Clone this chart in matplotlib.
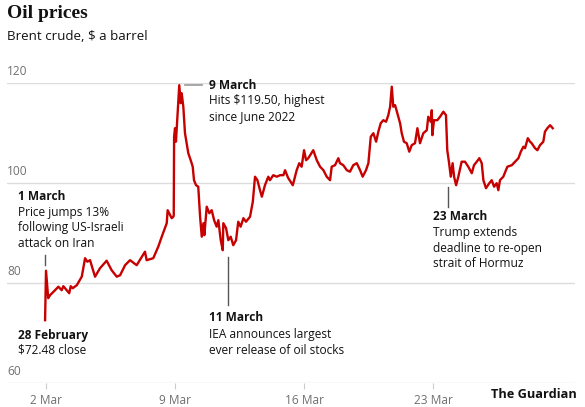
import matplotlib.pyplot as plt
from matplotlib.transforms import blended_transform_factory

# Brent crude, $ a barrel; x = days after 2 March
days = [-0.05, 0.0, 0.12, 0.22, 0.49, 0.67, 0.85, 0.94, 1.12, 1.26, 1.34, 1.45, 1.67,
        1.94, 2.12, 2.24, 2.39, 2.66, 2.93, 3.29, 3.56, 3.84, 4.02, 4.29, 4.56, 4.92,
        5.37, 5.46, 5.82, 6.09, 6.28, 6.55, 6.60, 6.82, 6.91, 6.93, 6.95, 7.00, 7.05,
        7.12, 7.23, 7.31, 7.36, 7.45, 7.54, 7.63, 7.72, 7.85, 7.96, 8.03, 8.14, 8.26,
        8.36, 8.45, 8.54, 8.59, 8.72, 8.86, 8.99, 9.12, 9.26, 9.35, 9.48, 9.59, 9.62,
        9.77, 9.89, 10.02, 10.16, 10.31, 10.43, 10.56, 10.71, 10.85, 11.07, 11.22,
        11.34, 11.47, 11.61, 11.71, 11.88, 12.06, 12.15, 12.33, 12.52, 12.70, 12.88,
        12.97, 13.13, 13.39, 13.60, 13.74, 13.87, 14.00, 14.11, 14.23, 14.50, 14.69,
        14.87, 15.05, 15.23, 15.41, 15.50, 15.68, 15.86, 15.95, 16.13, 16.32, 16.49,
        16.67, 16.86, 17.04, 17.18, 17.36, 17.49, 17.62, 17.76, 17.91, 18.03, 18.16,
        18.30, 18.45, 18.57, 18.67, 18.76, 18.84, 18.94, 19.06, 19.21, 19.30, 19.42,
        19.57, 19.71, 19.84, 20.02, 20.15, 20.29, 20.47, 20.66, 20.74, 20.87, 20.93,
        20.96, 21.05, 21.23, 21.38, 21.56, 21.70, 21.77, 21.87, 21.96, 22.06, 22.14,
        22.25, 22.37, 22.55, 22.73, 22.91, 23.10, 23.22, 23.37, 23.51, 23.64, 23.73,
        23.87, 24.05, 24.18, 24.31, 24.45, 24.54, 24.63, 24.81, 25.03, 25.27, 25.45,
        25.63, 25.76, 25.90, 25.99, 26.14, 26.26, 26.35, 26.53, 26.66, 26.80, 26.98,
        27.07, 27.20, 27.35, 27.49]
price = [72.5, 82.4, 76.9, 77.5, 78.5, 79.2, 78.5, 79.3, 78.5, 77.9, 79.3, 78.9, 79.5,
         81.2, 84.9, 84.2, 84.5, 81.2, 82.9, 84.4, 82.5, 81.2, 81.5, 83.5, 84.5, 83.5,
         86.2, 84.5, 84.9, 87.2, 89.2, 91.9, 94.5, 92.9, 93.2, 93.5, 109.2, 110.9, 108.2,
         112.5, 119.5, 115.9, 117.9, 115.2, 109.9, 107.9, 105.9, 104.5, 103.2, 100.5, 99.5, 99.2,
         93.2, 89.2, 91.9, 89.5, 95.2, 93.9, 94.5, 92.5, 91.2, 92.5, 88.5, 86.5, 91.9,
         90.9, 88.5, 89.2, 87.5, 88.5, 92.2, 91.2, 92.9, 92.2, 93.2, 96.2,
         101.2, 100.5, 98.5, 97.2, 99.5, 101.2, 100.5, 101.5, 101.2, 101.5, 101.5,
         102.5, 101.0, 99.5, 102.5, 103.9, 103.2, 106.5, 104.5, 104.9, 106.5, 104.5,
         103.2, 102.5, 101.2, 100.5, 103.2, 103.5, 104.9, 103.9, 103.5, 102.5, 102.2,
         103.5, 103.9, 102.5, 101.2, 102.5, 103.9, 109.2, 109.9, 108.2, 110.2, 111.9,
         112.5, 112.2, 113.5, 115.2, 119.2, 115.2, 115.5, 113.9, 111.9, 109.9, 108.2,
         107.9, 106.2, 107.5, 107.9, 110.9, 107.9, 109.9, 110.5, 113.2, 112.2, 114.5,
         109.5, 112.5, 112.5, 113.2, 114.2, 113.5, 106.5, 103.9, 101.2, 103.9, 101.2,
         99.5, 101.2, 104.2, 104.2, 103.2, 101.9, 103.5, 104.2, 104.9, 103.9, 100.5,
         98.9, 99.9, 100.5, 99.2, 99.9, 98.5, 100.5, 101.2, 103.2, 103.5, 104.2,
         104.9, 106.2, 107.2, 106.9, 108.9, 108.2, 107.9, 106.9, 106.5, 107.5, 108.2,
         110.2, 110.9, 111.5, 110.9]

x_ticks = [0, 7, 14, 21]
x_labels = ['2 Mar', '9 Mar', '16 Mar', '23 Mar']
y_ticks = [60, 80, 100, 120]

RED = '#c70000'
TXT = '#121212'
GREY = '#707070'
plt.rcParams['font.family'] = ['Open Sans', 'DejaVu Sans']

fig = plt.figure(figsize=(5.85, 4.07), dpi=100)
ax = fig.add_axes([7 / 585, 24.3 / 407, 568 / 585, 300 / 407])
ax.set_xlim(-2.116, 28.70)
ax.set_ylim(60, 120)

for v in y_ticks:
    ax.axhline(v, color='#dcdcdc', lw=1, zorder=1)
trans = blended_transform_factory(ax.transAxes, ax.transData)
for v in y_ticks:
    ax.text(0, v + 1.0, str(v), transform=trans, ha='left', va='bottom',
            fontsize=8.6, color=GREY)

ax.plot(days, price, color=RED, lw=1.7, zorder=3, solid_joinstyle='round')

ax.set_xticks(x_ticks)
ax.set_xticklabels(x_labels, fontsize=8.6, color=GREY)
ax.tick_params(axis='x', length=4, width=0.8, color='#cccccc', pad=4)
ax.set_yticks([])
for s in ax.spines.values():
    s.set_visible(False)


def note(x, ys, head, lines):
    ax.text(x, ys[0], head, fontsize=8.6, fontweight='bold', color=TXT, va='center', ha='left')
    for yy, t in zip(ys[1:], lines):
        ax.text(x, yy, t, fontsize=8.6, color=TXT, va='center', ha='left')


note(-1.52, [97.3, 94.1, 91.0, 87.9], '1 March',
     ['Price jumps 13%', 'following US-Israeli', 'attack on Iran'])
ax.plot([-0.05, -0.05], [85.5, 83.5], color='#555555', lw=1)

note(-1.52, [69.5, 66.5], '28 February', ['$72.48 close'])

note(8.84, [119.5, 116.4, 113.2], '9 March', ['Hits $119.50, highest', 'since June 2022'])
ax.plot([7.54, 8.45], [119.5, 119.5], color='#999999', lw=1.2)

note(8.84, [73.1, 69.7, 66.4], '11 March', ['IEA announces largest', 'ever release of oil stocks'])
ax.plot([9.88, 9.88], [85.1, 75.5], color='#555555', lw=1)

note(21.0, [93.2, 90.1, 86.9, 83.9], '23 March',
     ['Trump extends', 'deadline to re-open', 'strait of Hormuz'])
ax.plot([21.8, 21.8], [99.2, 95.2], color='#555555', lw=1)

fig.text(7 / 585, 1 - 13 / 407, 'Oil prices', fontsize=14, family='Liberation Serif',
         fontweight='bold', color=TXT, va='center', ha='left')
fig.text(7 / 585, 1 - 37 / 407, 'Brent crude, $ a barrel', fontsize=9.6, color=TXT,
         va='center', ha='left')
fig.text(577 / 585, 1 - 394 / 407, 'The Guardian', fontsize=9.2, fontweight='bold',
         color=TXT, va='center', ha='right')

fig.savefig('out.png', dpi=100)
